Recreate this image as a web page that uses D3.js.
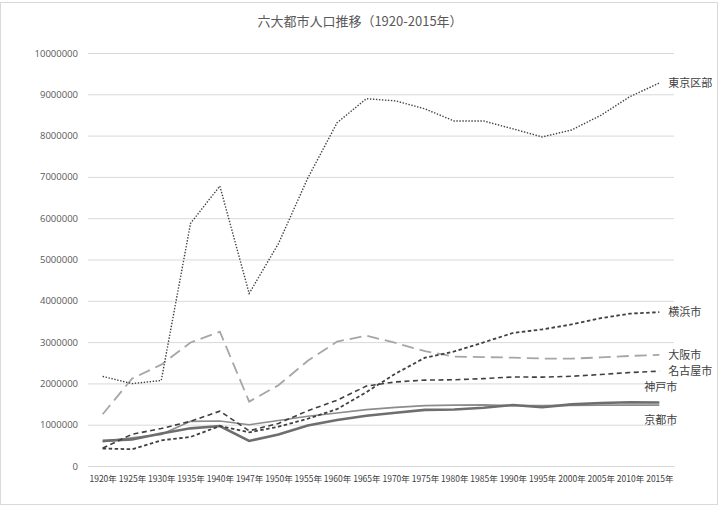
<!DOCTYPE html>
<html>
<head>
<meta charset="utf-8">
<script src="https://cdn.jsdelivr.net/npm/d3@7"></script>
<style>
  body { margin: 0; background: #fff; }
  text { font-family: "Noto Sans CJK JP", "Noto Sans", sans-serif; }
</style>
</head>
<body>
<div id="chart"></div>
<script>
let svgWidth = 721;
let svgHeight = 507;
let margin = { top: 53, right: 47, bottom: 41, left: 88 };
let chartWidth = svgWidth - margin.left - margin.right;
let chartHeight = svgHeight - margin.top - margin.bottom;

// data
let years = ["1920年","1925年","1930年","1935年","1940年","1947年","1950年","1955年","1960年","1965年",
  "1970年","1975年","1980年","1985年","1990年","1995年","2000年","2005年","2010年","2015年"];
let yTicks = [0,1000000,2000000,3000000,4000000,5000000,6000000,7000000,8000000,9000000,10000000];
let tokyo    = [2170000,1995000,2070000,5875000,6779000,4178000,5385000,6969000,8310000,8893000,
  8841000,8647000,8352000,8355000,8164000,7968000,8135000,8490000,8946000,9273000];
let yokohama = [423000,406000,620000,704000,968000,814000,951000,1144000,1376000,1789000,
  2238000,2622000,2774000,2993000,3220000,3307000,3427000,3580000,3689000,3725000];
let osaka    = [1253000,2115000,2454000,2990000,3252000,1559000,1956000,2547000,3012000,3156000,
  2980000,2779000,2648000,2636000,2624000,2602000,2599000,2629000,2665000,2691000];
let nagoya   = [430000,768000,907000,1083000,1328000,853000,1031000,1337000,1592000,1935000,
  2036000,2080000,2088000,2116000,2155000,2152000,2172000,2215000,2264000,2296000];
let kyoto    = [591000,680000,765000,1081000,1090000,1000000,1102000,1204000,1285000,1365000,
  1419000,1461000,1473000,1479000,1461000,1464000,1468000,1475000,1474000,1475000];
let kobe     = [609000,644000,788000,912000,967000,607000,765000,979000,1114000,1217000,
  1289000,1360000,1367000,1411000,1477000,1424000,1493000,1525000,1544000,1537000];

let svg = d3.select("#chart").append("svg")
  .attr("width", svgWidth)
  .attr("height", svgHeight);

// outer frame
svg.append("rect")
  .attr("x", 0.5).attr("y", 2.5)
  .attr("width", 717).attr("height", 502)
  .attr("fill", "none")
  .attr("stroke", "#d9d9d9");

svg.append("text")
  .attr("x", 360).attr("y", 26)
  .attr("text-anchor", "middle")
  .attr("font-size", 13)
  .attr("fill", "#595959")
  .text("六大都市人口推移（1920-2015年）");

let chartGroup = svg.append("g")
  .attr("transform", `translate(${margin.left}, ${margin.top})`);

let xScale = d3.scalePoint()
  .domain(years)
  .range([0, chartWidth])
  .padding(0.5);

let yScale = d3.scaleLinear()
  .domain([0, 10000000])
  .range([chartHeight, 0]);

// gridlines + y labels
chartGroup.append("g")
  .call(d3.axisLeft(yScale).tickValues(yTicks).tickSize(-chartWidth).tickFormat(d3.format("d")))
  .call(g => g.select(".domain").remove())
  .call(g => g.selectAll("line").attr("stroke", "#d9d9d9"))
  .call(g => g.selectAll("text").attr("x", -10).attr("fill", "#595959").attr("font-size", 9.5)
    .style("font-family", "'Open Sans', sans-serif"));

chartGroup.append("g")
  .attr("transform", `translate(0, ${chartHeight})`)
  .call(d3.axisBottom(xScale).tickSize(0))
  .call(g => g.select(".domain").attr("stroke", "#d9d9d9"))
  .call(g => g.selectAll("text").attr("dy", "1.5em").attr("fill", "#404040").attr("font-size", 8.5));

let series = [
  { name: "大阪市", values: osaka, color: "#a6a6a6", width: 1.8, dash: "12,6" },
  { name: "京都市", values: kyoto, color: "#8c8c8c", width: 1.6, dash: null },
  { name: "神戸市", values: kobe, color: "#6e6e6e", width: 2.6, dash: null },
  { name: "名古屋市", values: nagoya, color: "#404040", width: 1.6, dash: "5,3.5" },
  { name: "横浜市", values: yokohama, color: "#404040", width: 1.8, dash: "3.5,2.5" },
  { name: "東京区部", values: tokyo, color: "#404040", width: 1.4, dash: "1.4,1.6" }
];

let line = d3.line()
  .x((d, i) => xScale(years[i]))
  .y(d => yScale(d));

chartGroup.selectAll(".series")
  .data(series)
  .enter()
  .append("path")
  .attr("class", "series")
  .attr("d", s => line(s.values))
  .attr("fill", "none")
  .attr("stroke", s => s.color)
  .attr("stroke-width", s => s.width)
  .attr("stroke-dasharray", s => s.dash);

// end labels
let labelPos = [
  { name: "東京区部", dx: 9, dy: 4 },
  { name: "横浜市", dx: 9, dy: 4 },
  { name: "大阪市", dx: 9, dy: 4 },
  { name: "名古屋市", dx: 9, dy: 4 },
  { name: "神戸市", dx: -15, dy: -12 },
  { name: "京都市", dx: -15, dy: 19 }
];
let lastX = xScale(years[years.length - 1]);
labelPos.forEach(p => {
  let s = series.find(d => d.name === p.name);
  chartGroup.append("text")
    .attr("x", lastX + p.dx)
    .attr("y", yScale(s.values[s.values.length - 1]) + p.dy)
    .attr("font-size", 11)
    .attr("fill", "#404040")
    .text(p.name);
});
</script>
</body>
</html>
